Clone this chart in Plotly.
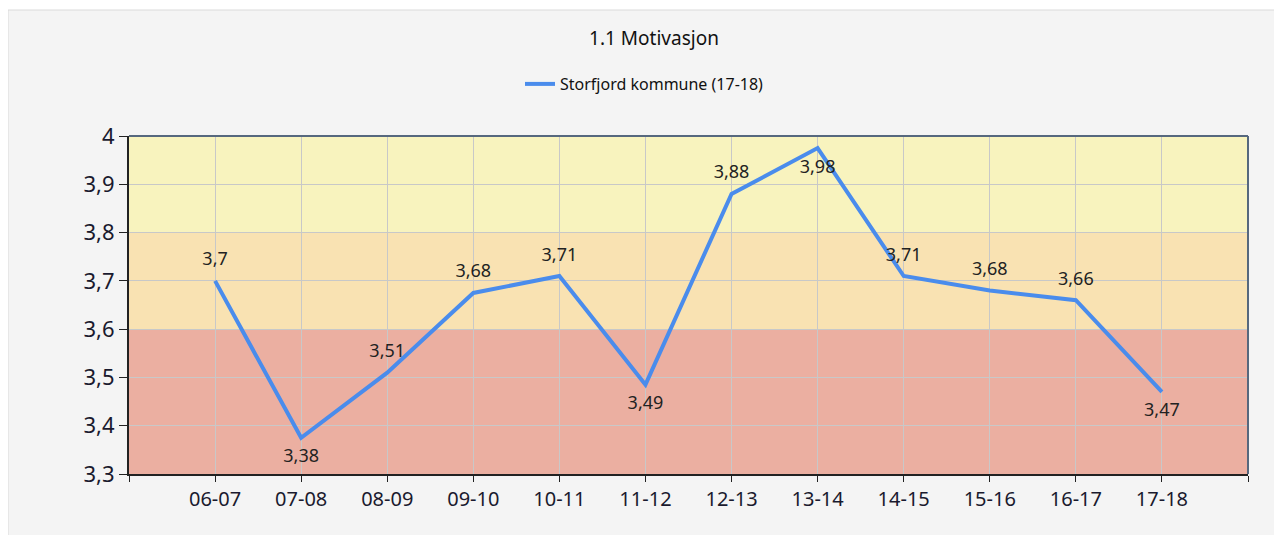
import plotly.graph_objects as go

categories = ["06-07", "07-08", "08-09", "09-10", "10-11", "11-12",
              "12-13", "13-14", "14-15", "15-16", "16-17", "17-18"]
values = [3.70, 3.375, 3.51, 3.675, 3.71, 3.485, 3.88, 3.975, 3.71, 3.68, 3.66, 3.47]
labels = ["3,7", "3,38", "3,51", "3,68", "3,71", "3,49", "3,88", "3,98", "3,71", "3,68", "3,66", "3,47"]
label_pos = ["top center", "bottom center", "top center", "top center", "top center",
             "bottom center", "top center", "bottom center", "top center", "top center",
             "top center", "bottom center"]
series_name = "Storfjord kommune (17-18)"
title_text = "1.1 Motivasjon"
bands = [(3.3, 3.6, "#EBAFA1"), (3.6, 3.8, "#F9E2B2"), (3.8, 4.0, "#F8F3BE")]

# page body has an 8px margin, so the figure is laid out in its own coordinates
W, H = 1274, 527
L, T = 121, 128
pw, ph = 1119, 338
R, B = W - L - pw, H - T - ph

def px_x(p):
    return (p - L) / pw

def px_y(p):
    return (T + ph - p) / ph

xs = list(range(len(categories)))

fig = go.Figure()
fig.add_trace(go.Scatter(
    x=xs, y=values, mode="lines+markers+text", name=series_name,
    line=dict(color="#4A8CEC", width=4),
    marker=dict(size=16, color="rgba(0,0,0,0)"),
    text=labels, textposition=label_pos,
    textfont=dict(family="Noto Sans", size=18, color="#222222"),
    cliponaxis=False,
))

shapes = [dict(type="rect", xref="paper", yref="paper",
               x0=px_x(0), x1=px_x(W + 10), y0=px_y(H + 10), y1=px_y(2),
               fillcolor="#F4F4F4", line=dict(color="#DADADA", width=1), layer="below")]
for y0, y1, c in bands:
    shapes.append(dict(type="rect", xref="paper", yref="y", x0=0, x1=1, y0=y0, y1=y1,
                       fillcolor=c, line=dict(width=0), layer="below"))
shapes.append(dict(type="line", xref="paper", yref="paper", x0=0, x1=1, y0=1, y1=1,
                   line=dict(color="#56687E", width=2)))
shapes.append(dict(type="line", xref="paper", yref="paper", x0=1, x1=1, y0=0, y1=1,
                   line=dict(color="#56687E", width=2)))

fig.update_layout(
    width=W, height=H,
    margin=dict(l=L, r=R, t=T, b=B),
    paper_bgcolor="white", plot_bgcolor="#F8F3BE",
    separators=", ",
    shapes=shapes,
    title=dict(text=title_text, x=646 / W, xanchor="center", y=1 - 30 / H, yanchor="middle",
               font=dict(family="Noto Sans", size=19, color="#111111")),
    showlegend=True,
    legend=dict(x=px_x(512), xanchor="left", y=px_y(76), yanchor="middle",
                orientation="h", bgcolor="rgba(0,0,0,0)",
                font=dict(family="Noto Sans", size=16, color="#111111")),
    xaxis=dict(range=[-1, 12], tickmode="array", tickvals=list(range(-1, 13)),
               ticktext=[""] + categories + [""],
               showgrid=True, gridcolor="#C8C8C8", gridwidth=1,
               ticks="outside", ticklen=6, tickcolor="#222222",
               showline=True, linecolor="#222222", linewidth=2, zeroline=False,
               tickfont=dict(family="Noto Sans", size=20, color="#1A1A2E")),
    yaxis=dict(range=[3.3, 4.0], dtick=0.1, tick0=3.3,
               showgrid=True, gridcolor="#C8C8C8", gridwidth=1,
               ticks="outside", ticklen=8, tickcolor="#222222",
               showline=True, linecolor="#222222", linewidth=2, zeroline=False,
               tickfont=dict(family="Noto Sans", size=22, color="#1A1A2E")),
)

fig.write_html("out.html")
